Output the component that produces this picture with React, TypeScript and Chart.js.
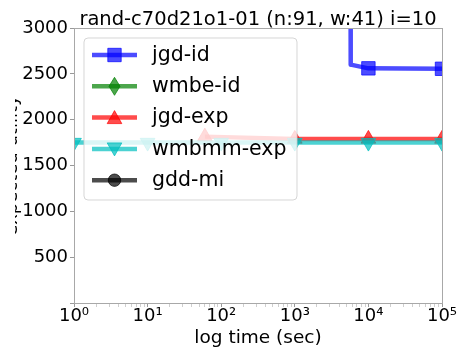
import React, { useEffect, useRef } from 'react';
import { Chart, registerables } from 'chart.js';

Chart.register(...registerables);

const TITLE = 'rand-c70d21o1-01 (n:91, w:41) i=10';
const X_LABEL = 'log time (sec)';
const Y_LABEL = 'expected utility';

const SERIES_NAMES = ['jgd-id', 'wmbe-id', 'jgd-exp', 'wmbmm-exp', 'gdd-mi'];

const JGD_ID_X = [5700, 5750, 10000, 100000];
const JGD_ID_Y = [3900, 2600, 2560, 2555];
const WMBE_ID_X: number[] = [];
const WMBE_ID_Y: number[] = [];
const JGD_EXP_X = [60, 1000, 10000, 100000];
const JGD_EXP_Y = [1815, 1790, 1790, 1790];
const WMBMM_EXP_X = [1, 10, 100, 1000, 10000, 100000];
const WMBMM_EXP_Y = [1750, 1750, 1750, 1750, 1750, 1750];
const GDD_MI_X: number[] = [];
const GDD_MI_Y: number[] = [];

const X_DECADES = [1, 10, 100, 1000, 10000, 100000];
const Y_TICKS = [0, 500, 1000, 1500, 2000, 2500, 3000];

const FONT = 'DejaVu Sans';

type Style = { color: string; point: string; radius: number; rotation: number };
const STYLES: Style[] = [
  { color: 'rgba(0,0,255,0.7)', point: 'rect', radius: 9.5, rotation: 0 },
  { color: 'rgba(0,128,0,0.7)', point: 'rectRot', radius: 8, rotation: 0 },
  { color: 'rgba(255,0,0,0.7)', point: 'triangle', radius: 8.5, rotation: 0 },
  { color: 'rgba(0,191,191,0.7)', point: 'triangle', radius: 8.5, rotation: 180 },
  { color: 'rgba(0,0,0,0.7)', point: 'circle', radius: 6.5, rotation: 0 },
];

const SUP: Record<string, string> = { '0': '⁰', '1': '¹', '2': '²', '3': '³', '4': '⁴', '5': '⁵', '6': '⁶', '7': '⁷', '8': '⁸', '9': '⁹' };

function isDecade(v: number) {
  const l = Math.log10(v);
  return Math.abs(l - Math.round(l)) < 1e-9;
}

function drawLegendMarker(ctx: CanvasRenderingContext2D, i: number, x: number, y: number) {
  const st = STYLES[i];
  ctx.save();
  ctx.fillStyle = st.color;
  ctx.strokeStyle = st.color;
  ctx.lineWidth = 1;
  ctx.beginPath();
  if (i === 0) {
    const h = 6.7;
    ctx.rect(x - h, y - h, 2 * h, 2 * h);
  } else if (i === 1) {
    ctx.moveTo(x, y - 9);
    ctx.lineTo(x + 5.5, y);
    ctx.lineTo(x, y + 9);
    ctx.lineTo(x - 5.5, y);
    ctx.closePath();
  } else if (i === 2) {
    ctx.moveTo(x, y - 7);
    ctx.lineTo(x + 7.3, y + 6);
    ctx.lineTo(x - 7.3, y + 6);
    ctx.closePath();
  } else if (i === 3) {
    ctx.moveTo(x, y + 7);
    ctx.lineTo(x + 7.3, y - 6);
    ctx.lineTo(x - 7.3, y - 6);
    ctx.closePath();
  } else {
    ctx.arc(x, y, 6.2, 0, Math.PI * 2);
  }
  ctx.fill();
  ctx.stroke();
  ctx.restore();
}

const overlayPlugin = {
  id: 'overlay',
  afterDraw(chart: any) {
    const ctx: CanvasRenderingContext2D = chart.ctx;
    const a = chart.chartArea;
    ctx.save();
    // frame
    ctx.fillStyle = '#a8a8a8';
    ctx.fillRect(Math.round(a.left), Math.round(a.top), Math.round(a.right - a.left) + 1, 1);
    ctx.fillRect(Math.round(a.left), Math.round(a.bottom), Math.round(a.right - a.left) + 1, 1);
    ctx.fillRect(Math.round(a.left), Math.round(a.top), 1, Math.round(a.bottom - a.top) + 1);
    ctx.fillRect(Math.round(a.right), Math.round(a.top), 1, Math.round(a.bottom - a.top) + 1);

    const cx = (a.left + a.right) / 2;
    // title
    ctx.fillStyle = '#000';
    ctx.font = `19.5px "${FONT}"`;
    ctx.textAlign = 'center';
    ctx.textBaseline = 'alphabetic';
    ctx.fillText(TITLE, cx, 24.5);

    // x label
    ctx.font = `18.5px "${FONT}"`;
    ctx.fillText(X_LABEL, cx, 343);

    // y label (mostly clipped)
    ctx.save();
    ctx.beginPath();
    ctx.rect(15, 0, 10, chart.height);
    ctx.clip();
    ctx.translate(16.5, (a.top + a.bottom) / 2);
    ctx.rotate(-Math.PI / 2);
    ctx.font = `18px "${FONT}"`;
    ctx.fillText(Y_LABEL, 0, 0);
    ctx.restore();

    // legend
    const bx = 84, by = 38, bw = 213, bh = 162, r = 4;
    ctx.beginPath();
    ctx.moveTo(bx + r, by);
    ctx.lineTo(bx + bw - r, by);
    ctx.arcTo(bx + bw, by, bx + bw, by + r, r);
    ctx.lineTo(bx + bw, by + bh - r);
    ctx.arcTo(bx + bw, by + bh, bx + bw - r, by + bh, r);
    ctx.lineTo(bx + r, by + bh);
    ctx.arcTo(bx, by + bh, bx, by + bh - r, r);
    ctx.lineTo(bx, by + r);
    ctx.arcTo(bx, by, bx + r, by, r);
    ctx.closePath();
    ctx.fillStyle = 'rgba(255,255,255,0.8)';
    ctx.fill();
    ctx.strokeStyle = 'rgba(204,204,204,0.8)';
    ctx.lineWidth = 1;
    ctx.stroke();

    chart.data.datasets.forEach((ds: any, i: number) => {
      const y = 55 + i * 31.3;
      ctx.strokeStyle = STYLES[i].color;
      ctx.lineWidth = 4.5;
      ctx.lineCap = 'butt';
      ctx.beginPath();
      ctx.moveTo(92, y);
      ctx.lineTo(137, y);
      ctx.stroke();
      drawLegendMarker(ctx, i, 114.5, y);
      ctx.fillStyle = '#000';
      ctx.font = `20.5px "${FONT}"`;
      ctx.textAlign = 'left';
      ctx.textBaseline = 'middle';
      ctx.fillText(ds.label, 152, y + 0.5);
    });
    ctx.restore();
  },
};

export default function App() {
  const ref = useRef<HTMLCanvasElement>(null);

  useEffect(() => {
    const canvas = ref.current;
    if (!canvas) return;
    Chart.defaults.font.family = FONT;
    const seriesX = [JGD_ID_X, WMBE_ID_X, JGD_EXP_X, WMBMM_EXP_X, GDD_MI_X];
    const seriesY = [JGD_ID_Y, WMBE_ID_Y, JGD_EXP_Y, WMBMM_EXP_Y, GDD_MI_Y];

    const datasets = SERIES_NAMES.map((name, i) => {
      const st = STYLES[i];
      const xs = seriesX[i];
      return {
        label: name,
        data: xs.map((x, j) => ({ x, y: seriesY[i][j] })),
        borderColor: st.color,
        backgroundColor: st.color,
        borderWidth: 4.5,
        borderJoinStyle: 'round',
        borderCapStyle: 'butt',
        tension: 0,
        pointStyle: st.point,
        pointRotation: st.rotation,
        pointRadius: (c: any) => {
          const raw = c.raw;
          if (!raw) return 0;
          return c.dataIndex === 0 || isDecade(raw.x) ? st.radius : 0;
        },
        pointHoverRadius: 0,
        pointBorderWidth: 1,
        pointBackgroundColor: st.color,
        pointBorderColor: st.color,
        clip: 0,
        order: SERIES_NAMES.length - i,
      };
    });

    const logTicks: { value: number; major: boolean }[] = [];
    for (let d = 0; d < X_DECADES.length - 1; d++) {
      for (let k = 1; k <= 9; k++) logTicks.push({ value: X_DECADES[d] * k, major: k === 1 });
    }
    logTicks.push({ value: X_DECADES[X_DECADES.length - 1], major: true });

    const chart = new Chart(canvas, {
      type: 'line',
      data: { datasets } as any,
      options: {
        animation: false,
        responsive: false,
        devicePixelRatio: 1,
        events: [],
        layout: { padding: { top: 28, right: 17, left: 0, bottom: 0 } },
        plugins: {
          legend: { display: false },
          title: { display: false },
          tooltip: { enabled: false },
        },
        scales: {
          x: {
            type: 'logarithmic',
            min: X_DECADES[0],
            max: X_DECADES[X_DECADES.length - 1],
            position: 'bottom',
            afterBuildTicks: (s: any) => {
              s.ticks = logTicks.map((t) => ({ ...t }));
            },
            afterFit: (s: any) => {
              s.height = 44;
            },
            border: { display: false },
            grid: {
              drawOnChartArea: false,
              drawTicks: true,
              tickLength: 4,
              lineWidth: 1,
              color: (c: any) => (c.tick && isDecade(c.tick.value) ? '#999999' : '#cfcfcf'),
            },
            ticks: {
              autoSkip: false,
              maxRotation: 0,
              minRotation: 0,
              padding: 0,
              color: '#000',
              font: { family: FONT, size: 18, lineHeight: 1 },
              callback: (v: any) => {
                const n = Number(v);
                if (!isDecade(n)) return '';
                const e = String(Math.round(Math.log10(n)));
                return '10' + e.split('').map((ch) => SUP[ch] || ch).join('');
              },
            },
          },
          y: {
            type: 'linear',
            min: Y_TICKS[0],
            max: Y_TICKS[Y_TICKS.length - 1],
            position: 'left',
            afterBuildTicks: (s: any) => {
              s.ticks = Y_TICKS.map((v) => ({ value: v }));
            },
            afterFit: (s: any) => {
              s.width = 74;
            },
            border: { display: false },
            grid: {
              drawOnChartArea: false,
              drawTicks: true,
              tickLength: 4,
              lineWidth: 1,
              color: '#999999',
            },
            ticks: {
              padding: 2,
              color: '#000',
              font: { family: FONT, size: 18 },
              callback: (v: any) => (Number(v) === 0 ? '' : String(v)),
            },
          },
        },
      } as any,
      plugins: [overlayPlugin],
    });
    return () => chart.destroy();
  }, []);

  return (
    <canvas
      ref={ref}
      width={459}
      height={347}
      style={{ position: 'fixed', left: 0, top: 0, width: 459, height: 347, background: '#fff' }}
    />
  );
}
